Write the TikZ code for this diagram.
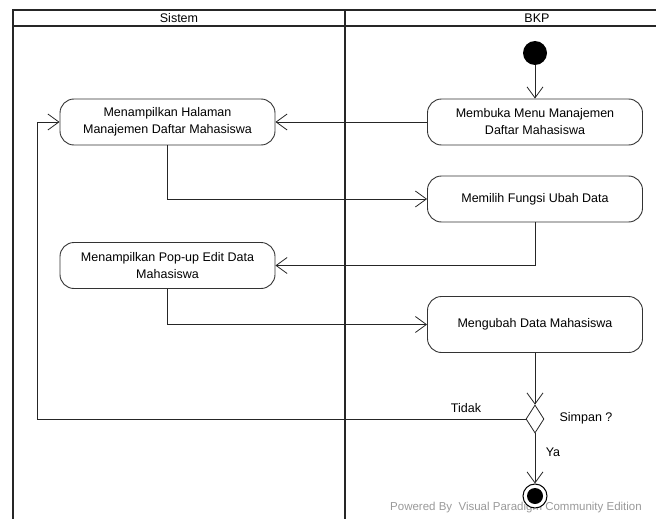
\documentclass[tikz,border=0pt]{standalone}
\usepackage{fontspec}
\setmainfont{Liberation Sans}
\usetikzlibrary{arrows.meta,shapes.geometric}
\begin{document}
\begin{tikzpicture}[x=1pt,y=-1pt,
  act/.style={draw=black!80, line width=0.9pt, rounded corners=14pt,
    minimum width=215pt, minimum height=46pt, align=center,
    font=\fontsize{12.5}{17}\selectfont, inner sep=0pt},
  flow/.style={draw=black!85, line width=0.8pt,
    -{Straight Barb[length=11pt,width=16pt,line width=0.8pt]}},
  lane/.style={line width=2pt, draw=black!85},
  lbl/.style={font=\fontsize{12.5}{15}\selectfont}]
\useasboundingbox (0,0) rectangle (656,519);

% watermark text (behind everything)
\node[text=black!40, font=\fontsize{11.5}{13}\selectfont] (vp) at (516,508) {Powered By\ \ Visual Paradigm Community Edition};

% swimlanes
\draw[lane] (13,519) -- (13,10) -- (656,10);
\draw[lane] (13,26) -- (656,26);
\draw[lane] (345,10) -- (345,519);
\node[lbl] (hs) at (179,18) {Sistem};
\node[lbl] (hb) at (537,18) {BKP};

% nodes
\node[circle, fill=black, minimum size=24pt, inner sep=0pt] (start) at (535,53) {};
\node[act] (membuka) at (535,122) {Membuka Menu Manajemen\\Daftar Mahasiswa};
\node[act] (tampil) at (167.5,122) {Menampilkan Halaman\\Manajemen Daftar Mahasiswa};
\node[act] (memilih) at (535,199) {Memilih Fungsi Ubah Data};
\node[act] (popup) at (167.5,265.5) {Menampilkan Pop-up Edit Data\\Mahasiswa};
\node[act, minimum height=56pt] (ubah) at (535,324.5) {Mengubah Data Mahasiswa};
\node[diamond, draw=black!85, fill=white, line width=0.8pt, minimum width=18pt, minimum height=28pt, inner sep=0pt] (dec) at (535,419) {};
\node[circle, draw=black, fill=white, line width=1pt, minimum size=24pt, inner sep=0pt] (end) at (535,496) {};
\fill[black] (end.center) circle (8pt);
\coordinate (loop) at (37,419);

% connectors
\draw[flow] (start) -- (membuka);
\draw[flow] (membuka) -- (tampil);
\draw[flow] (tampil.south) |- (memilih.west);
\draw[flow] (memilih.south) |- (popup.east);
\draw[flow] (popup.south) |- (ubah.west);
\draw[flow] (ubah.south) -- (dec.north);
\draw[flow] (dec.west) -- (loop) |- (tampil.west);
\draw[flow] (dec.south) -- (end);

% labels
\node[lbl] (ltidak) at (466,408) {Tidak};
\node[lbl] (lsimpan) at (586,418) {Simpan ?};
\node[lbl] (lya) at (553,452) {Ya};
\end{tikzpicture}
\end{document}
